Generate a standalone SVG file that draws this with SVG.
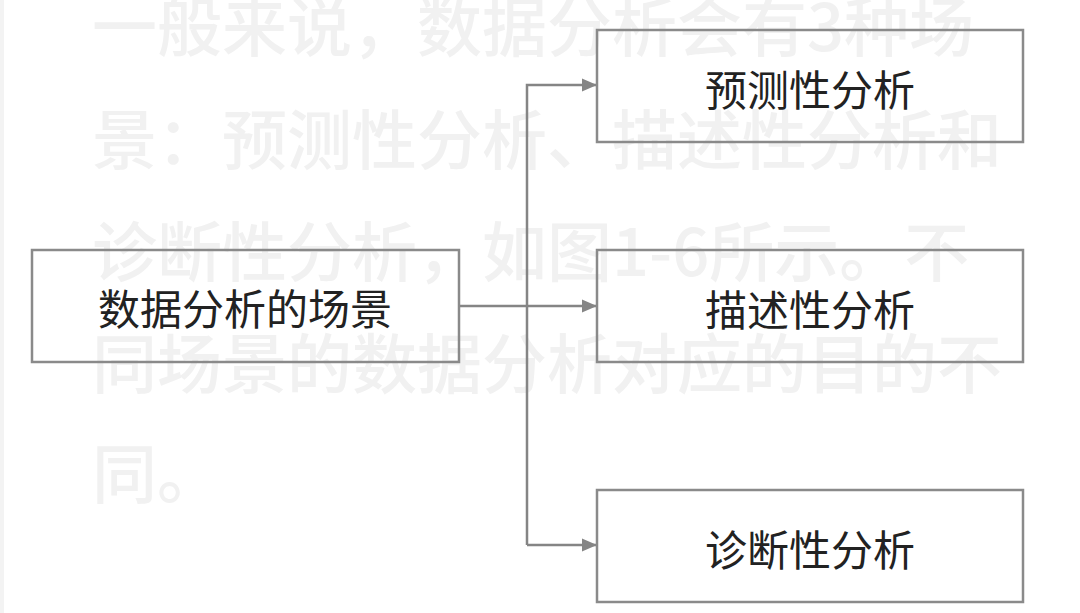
<svg xmlns="http://www.w3.org/2000/svg" width="1080" height="613" viewBox="0 0 1080 613">
  <style>
    .ghost { font-family: "Noto Sans CJK SC", "Noto Sans", sans-serif; font-size: 65px; font-weight: 500; fill: #f1f1f1; }
    .box { fill: none; stroke: #8a8a8a; stroke-width: 2.5; }
    .label { font-family: "Noto Sans CJK SC", "Noto Sans", sans-serif; font-size: 42px; fill: #222222; text-anchor: middle; dominant-baseline: central; }
    .conn { fill: none; stroke: #858585; stroke-width: 2.5; }
  </style>
  <defs>
    <marker id="arrow" markerUnits="userSpaceOnUse" markerWidth="17" markerHeight="15" refX="16" refY="7.5" orient="auto">
      <path d="M1,1 L16,7.5 L1,14 Z" fill="#858585"/>
    </marker>
  </defs>
  <rect x="0" y="0" width="1080" height="613" fill="#ffffff"/>
  <rect x="0" y="0" width="4" height="613" fill="#f3f3f3"/>
  <g id="background-text">
    <text class="ghost" x="92" y="51">一般来说，数据分析会有3种场</text>
    <text class="ghost" x="92" y="164">景：预测性分析、描述性分析和</text>
    <text class="ghost" x="92" y="276">诊断性分析，如图1-6所示。不</text>
    <text class="ghost" x="92" y="388">同场景的数据分析对应的目的不</text>
    <text class="ghost" x="92" y="498">同。</text>
  </g>
  <g id="connectors">
    <path class="conn" d="M459,306 L597,306" marker-end="url(#arrow)"/>
    <path class="conn" d="M527,545 L527,85 L597,85" marker-end="url(#arrow)"/>
    <path class="conn" d="M527,545 L597,545" marker-end="url(#arrow)"/>
  </g>
  <g id="node-root">
    <rect class="box" x="32" y="250" width="427" height="112"/>
    <text class="label" x="245" y="306">数据分析的场景</text>
  </g>
  <g id="node-predictive">
    <rect class="box" x="597" y="30" width="426" height="112"/>
    <text class="label" x="810" y="87">预测性分析</text>
  </g>
  <g id="node-descriptive">
    <rect class="box" x="597" y="250" width="426" height="112"/>
    <text class="label" x="810" y="307">描述性分析</text>
  </g>
  <g id="node-diagnostic">
    <rect class="box" x="597" y="490" width="426" height="112"/>
    <text class="label" x="810" y="547">诊断性分析</text>
  </g>
</svg>
